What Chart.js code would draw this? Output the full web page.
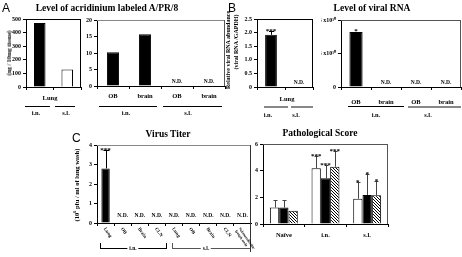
<!DOCTYPE html>
<html><head><meta charset="utf-8">
<script src="https://cdn.jsdelivr.net/npm/chart.js@4.4.1/dist/chart.umd.min.js"></script>
<style>
html,body{margin:0;padding:0;background:#fff;}
#wrap{position:relative;width:462px;height:257px;overflow:hidden;background:#fff;}
canvas{position:absolute;left:0;top:0;}
.t{position:absolute;font-family:"Liberation Serif","Times New Roman",serif;font-weight:bold;white-space:nowrap;transform:translate(-50%,-50%);line-height:1;color:#000;}
.rot{transform:translate(-50%,-50%) rotate(-90deg);}
.L{position:absolute;font-family:"Liberation Sans",Arial,sans-serif;font-size:12px;line-height:1;color:#000;}
.ln{position:absolute;height:0;border-top:1px solid #000;}
.vl{position:absolute;width:0;border-left:1px solid #000;}
.wb{background:#fff;padding:0 2px;}
</style></head><body><div id="wrap"></div>
<script>
// ---------------- DATA ----------------
const aLungGroups = ['i.n.', 's.l.'];
const aLungValues = [470, 128];
const aTissueCats = ['OB', 'brain', 'OB', 'brain'];
const aTissueValues = [10.2, 15.7, null, null];
const aTissueND = ['', '', 'N.D.', 'N.D.'];

const bLungGroups = ['i.n.', 's.l.'];
const bLungValues = [1.92, null];
const bLungErr = [0.15, null];
const bLungStars = ['***', ''];
const bLungND = ['', 'N.D.'];
const bTissueCats = ['OB', 'brain', 'OB', 'brain'];
const bTissueValues = [4.1e10, null, null, null];
const bTissueStars = ['*', '', '', ''];
const bTissueND = ['', 'N.D.', 'N.D.', 'N.D.'];
const bTissueTickLabels = ['0', '2.5 x10\u00b9\u2070', '5 x10\u00b9\u2070'];

const cTiterCats = ['Lung', 'OB', 'Brain', 'CLN', 'Lung', 'OB', 'Brain', 'CLN', ['Submandibular', 'lymph node']];
const cTiterValues = [2.8, null, null, null, null, null, null, null, null];
const cTiterErr = [0.95, null, null, null, null, null, null, null, null];
const cTiterStars = ['***', '', '', '', '', '', '', '', ''];
const cTiterND = ['', 'N.D.', 'N.D.', 'N.D.', 'N.D.', 'N.D.', 'N.D.', 'N.D.', 'N.D.'];

const pathGroups = ['Na\u00efve', 'i.n.', 's.l.'];
const pathWhite = [1.23, 4.18, 1.9];
const pathWhiteErr = [0.55, 0.9, 1.25];
const pathBlack = [1.23, 3.43, 2.18];
const pathBlackErr = [0.55, 1.0, 1.6];
const pathHatch = [1.0, 4.3, 2.15];
const pathHatchErr = [0, 1.16, 1.05];
const pathStars = ['', '***', '*'];

// ---------------- HELPERS ----------------
const W = 462, H = 257;
const SERIF = '"Liberation Serif", "Times New Roman", serif';
const wrap = document.getElementById('wrap');
const tickFont = {family: SERIF, size: 6, weight: 'bold'};

function hatchPattern() {
  const c = document.createElement('canvas'); c.width = 3; c.height = 3;
  const x = c.getContext('2d');
  x.fillStyle = '#fff'; x.fillRect(0, 0, 3, 3);
  x.fillStyle = '#000';
  for (let i = 0; i < 3; i++) x.fillRect(i, i, 1, 1);
  return x.createPattern(c, 'repeat');
}

const annot = {
  id: 'annot',
  afterDraw(chart) {
    const o = chart.options.plugins.annot || {};
    const ctx = chart.ctx, xs = chart.scales.x, ys = chart.scales.y, a = chart.chartArea;
    ctx.save();
    ctx.lineWidth = 1;
    if (o.top) { ctx.strokeStyle = o.top; ctx.beginPath(); ctx.moveTo(a.left, a.top + 0.5); ctx.lineTo(a.right, a.top + 0.5); ctx.stroke(); }
    if (o.right) { ctx.strokeStyle = o.right; ctx.beginPath(); ctx.moveTo(a.right - 0.5, a.top); ctx.lineTo(a.right - 0.5, o.rightTo || a.bottom); ctx.stroke(); }
    const y0 = ys.getPixelForValue(0);
    chart.data.datasets.forEach((ds, di) => {
      const meta = chart.getDatasetMeta(di);
      ds.data.forEach((v, i) => {
        const el = meta.data[i];
        const x = (el && isFinite(el.x)) ? el.x : xs.getPixelForValue(i);
        let top = v == null ? y0 : ys.getPixelForValue(v);
        if (ds.errors && ds.errors[i]) {
          const yt = Math.round(ys.getPixelForValue(v + ds.errors[i])) + 0.5;
          const xx = Math.round(x) + 0.5;
          ctx.strokeStyle = o.errColor || '#000';
          ctx.beginPath(); ctx.moveTo(xx, top); ctx.lineTo(xx, yt);
          ctx.moveTo(xx - (o.cap || 2.5), yt); ctx.lineTo(xx + (o.cap || 2.5), yt); ctx.stroke();
          top = yt;
        }
        if (ds.stars && ds.stars[i]) {
          ctx.fillStyle = '#000'; ctx.font = 'bold 7px ' + SERIF;
          ctx.textAlign = 'center'; ctx.textBaseline = 'alphabetic';
          ctx.fillText(ds.stars[i], x, top + 1);
        }
        if (ds.nd && ds.nd[i]) {
          ctx.fillStyle = '#000'; ctx.font = 'bold 5.5px ' + SERIF;
          ctx.textAlign = 'center'; ctx.textBaseline = 'alphabetic';
          ctx.fillText(ds.nd[i], xs.getPixelForValue(i), y0 - (o.ndOff || 3));
        }
      });
    });
    if (o.rotLabels) {
      ctx.fillStyle = '#000';
      ctx.textAlign = 'left'; ctx.textBaseline = 'middle';
      chart.data.labels.forEach((lab, i) => {
        const x = xs.getPixelForValue(i);
        const lines = Array.isArray(lab) ? lab : [lab];
        ctx.font = 'bold ' + (lines.length > 1 ? 3.8 : 4.8) + 'px ' + SERIF;
        ctx.save();
        ctx.translate(x - 1 - (lines.length - 1) * 2, y0 + 5);
        ctx.rotate(55 * Math.PI / 180);
        lines.forEach((s, k) => ctx.fillText(s, 0, k * 4.5));
        ctx.restore();
      });
    }
    ctx.restore();
  }
};

function panel(box, data, opt) {
  const yW = 20, xH = 20;
  const cv = document.createElement('canvas');
  cv.width = W; cv.height = H; wrap.appendChild(cv);
  const padding = {left: box.l - yW, right: W - box.r, top: box.t, bottom: H - box.b - xH};
  return new Chart(cv.getContext('2d'), {
    type: 'bar',
    data: data,
    options: {
      responsive: false, animation: false, devicePixelRatio: 1,
      layout: {padding: padding, autoPadding: false},
      plugins: {legend: {display: false}, tooltip: {enabled: false}, title: {display: false}, annot: opt.annot || {}},
      scales: {
        x: {
          offset: true,
          grid: {offset: true, drawOnChartArea: false, tickLength: 3, color: '#000', lineWidth: 1},
          border: {color: '#000', width: 1},
          ticks: {display: !!opt.xTicks, font: {family: SERIF, size: 6.5, weight: 'bold'}, color: '#000', padding: opt.xPad || 3, maxRotation: 0, minRotation: 0, autoSkip: false},
          afterFit(s) { s.height = xH; }
        },
        y: {
          min: 0, max: opt.max,
          ticks: Object.assign({stepSize: opt.step, font: tickFont, color: '#000', padding: 2}, opt.yCb ? {callback: opt.yCb} : {}),
          grid: {drawOnChartArea: false, tickLength: 3, color: '#000'},
          border: {color: '#000', width: 1},
          afterFit(s) { s.width = yW; }
        }
      }
    },
    plugins: [annot]
  });
}

// ---------------- PANELS ----------------
panel({l: 26, r: 81, t: 19, b: 87},
  {labels: aLungGroups, datasets: [{data: aLungValues, backgroundColor: ['#000', '#fff'], borderColor: '#000', borderWidth: 1, categoryPercentage: 1, barPercentage: 0.42}]},
  {max: 500, step: 100, annot: {top: '#000', right: '#000'}});

panel({l: 97, r: 225, t: 20, b: 86},
  {labels: aTissueCats, datasets: [{data: aTissueValues, nd: aTissueND, backgroundColor: '#000', borderColor: '#000', borderWidth: 1, categoryPercentage: 1, barPercentage: 0.38}]},
  {max: 20, step: 5, xTicks: true, xPad: 3, annot: {top: '#888', right: '#555'}});

panel({l: 257, r: 313, t: 19, b: 87},
  {labels: bLungGroups, datasets: [{data: bLungValues, errors: bLungErr, stars: bLungStars, nd: bLungND, backgroundColor: '#000', borderColor: '#000', borderWidth: 1, categoryPercentage: 1, barPercentage: 0.42}]},
  {max: 2.5, step: 0.5, annot: {top: '#000', right: '#000'}});

panel({l: 341, r: 461, t: 20, b: 87},
  {labels: bTissueCats, datasets: [{data: bTissueValues, stars: bTissueStars, nd: bTissueND, backgroundColor: '#000', borderColor: '#000', borderWidth: 1, categoryPercentage: 1, barPercentage: 0.44}]},
  {max: 5e10, step: 2.5e10, xTicks: true, xPad: 8, yCb: (v, i) => bTissueTickLabels[i], annot: {top: '#555', right: '#555'}});

panel({l: 97, r: 251, t: 145, b: 223},
  {labels: cTiterCats, datasets: [{data: cTiterValues, errors: cTiterErr, stars: cTiterStars, nd: cTiterND, backgroundColor: '#000', borderColor: '#000', borderWidth: 1, categoryPercentage: 1, barPercentage: 0.49}]},
  {max: 4, step: 1, annot: {top: '#888', right: '#333', rightTo: 252, rotLabels: true, cap: 3, ndOff: 6}});

const hp = hatchPattern();
panel({l: 263, r: 388, t: 144, b: 224},
  {labels: pathGroups, datasets: [
    {data: pathWhite, errors: pathWhiteErr, stars: pathStars, backgroundColor: '#fff', borderColor: '#000', borderWidth: 1, categoryPercentage: 0.67, barPercentage: 1},
    {data: pathBlack, errors: pathBlackErr, stars: pathStars, backgroundColor: '#000', borderColor: '#000', borderWidth: 1, categoryPercentage: 0.67, barPercentage: 1},
    {data: pathHatch, errors: pathHatchErr, stars: pathStars, backgroundColor: hp, borderColor: '#000', borderWidth: 1, categoryPercentage: 0.67, barPercentage: 1}
  ]},
  {max: 6, step: 2, xTicks: true, xPad: 4, annot: {top: '#555', right: '#555', errColor: '#444', cap: 2}});

// ---------------- TEXT & DECORATION ----------------
function txt(x, y, s, size, cls) {
  const d = document.createElement('div');
  d.className = 't' + (cls ? ' ' + cls : '');
  d.style.left = x + 'px'; d.style.top = y + 'px'; d.style.fontSize = size + 'px';
  d.innerHTML = s; wrap.appendChild(d);
}
function letter(x, y, s) {
  const d = document.createElement('div'); d.className = 'L';
  d.style.left = x + 'px'; d.style.top = y + 'px'; d.textContent = s; wrap.appendChild(d);
}
function hline(x1, x2, y, col, w) {
  const d = document.createElement('div'); d.className = 'ln';
  d.style.left = x1 + 'px'; d.style.top = y + 'px'; d.style.width = (x2 - x1) + 'px';
  d.style.borderTop = (w || 1) + 'px solid ' + (col || '#000'); wrap.appendChild(d);
}
function vline(x, y1, y2, col) {
  const d = document.createElement('div'); d.className = 'vl';
  d.style.left = x + 'px'; d.style.top = y1 + 'px'; d.style.height = (y2 - y1) + 'px';
  d.style.borderLeft = '1px solid ' + (col || '#000'); wrap.appendChild(d);
}

letter(2, 2, 'A'); letter(228, 2, 'B'); letter(72, 132, 'C');
txt(107, 8.5, 'Level of acridinium labeled A/PR/8', 9.5);
txt(372, 8.5, 'Level of viral RNA', 9.5);
txt(168, 135, 'Virus Titer', 9.5);
txt(320, 134, 'Pathological Score', 9.5);

txt(9, 53, '(ng / 10mg tissue)', 6, 'rot');
txt(228, 50, 'Relative viral RNA abundance', 6, 'rot');
txt(236, 42, '(viral RNA /GAPDH)', 6, 'rot');
txt(77, 185, '(10<sup style="font-size:4px">6</sup> pfu / ml of lung wash)', 6.5, 'rot');

txt(50, 98, 'Lung', 6.5);
txt(287, 99, 'Lung', 6.5);

hline(25, 50, 106); hline(55, 75, 106);
txt(36, 113, 'i.n.', 6.5); txt(66, 113, 's.l.', 6.5);
hline(99, 157, 106); hline(163, 222, 106);
txt(126, 113, 'i.n.', 6.5); txt(188, 113, 's.l.', 6.5);
hline(264, 288, 106, '#888', 2); hline(291, 313, 106, '#888', 2);
txt(268, 115, 'i.n.', 6.5); txt(296, 115, 's.l.', 6.5);
hline(348, 404, 106, '#000', 1); hline(408, 461, 106, '#888', 2);
txt(376, 115, 'i.n.', 6.5); txt(428, 115, 's.l.', 6.5);

hline(100, 166, 248); vline(100, 243, 248); vline(166, 243, 249);
hline(172, 250, 248, '#555'); vline(172, 243, 249, '#555');
txt(133, 248.5, 'i.n.', 5.5, 'wb'); txt(206, 248.5, 's.l.', 5.5, 'wb');
</script></body></html>
